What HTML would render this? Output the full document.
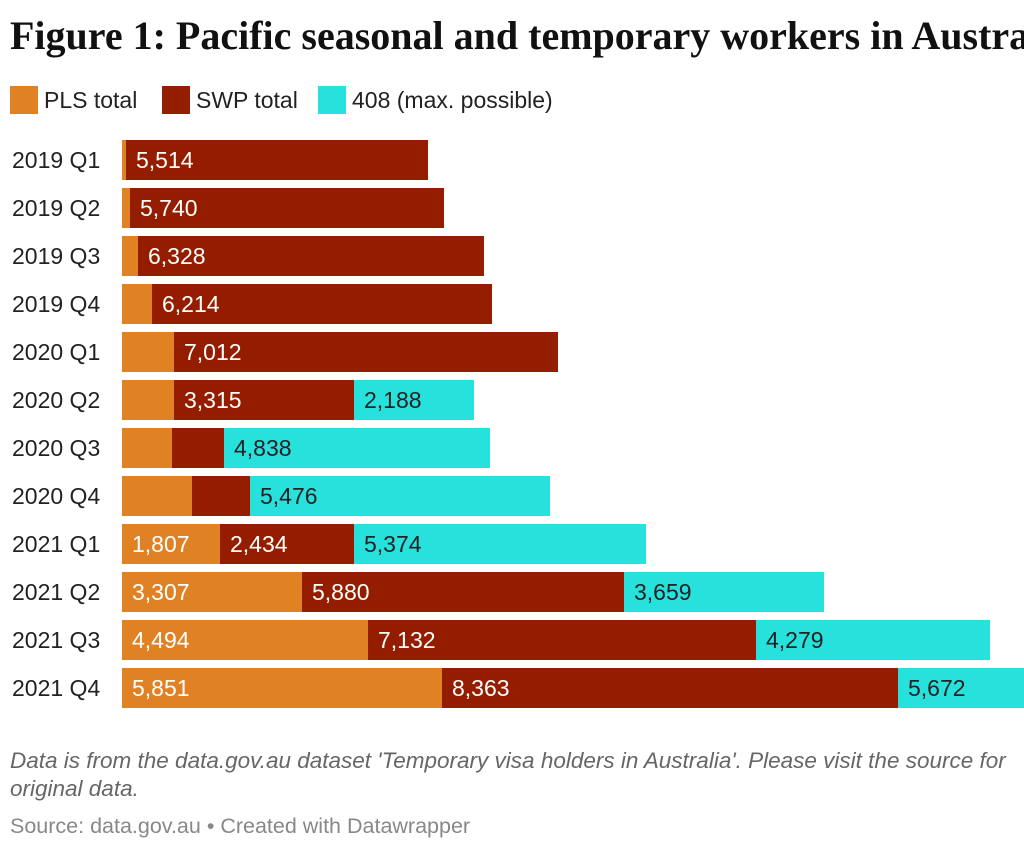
<!DOCTYPE html>
<html><head><meta charset="utf-8"><style>
body{margin:0;width:1024px;height:850px;background:#fff;overflow:hidden;position:relative;font-family:"Liberation Sans",sans-serif;}
.t{position:absolute;left:10px;top:12px;font-family:"Liberation Serif",serif;font-weight:bold;font-size:40px;white-space:nowrap;color:#111;}
.lg{position:absolute;top:86px;height:28px;font-size:23px;color:#222;line-height:28px;white-space:nowrap}
.sw{display:inline-block;width:28px;height:28px;vertical-align:top;margin-right:6px}
.lab{position:absolute;left:12px;font-size:23px;color:#222;line-height:40px}
.b{position:absolute;height:40px;line-height:40px;font-size:23px;color:#fff;box-sizing:border-box;padding-left:10px;white-space:nowrap;overflow:hidden}
.o{background:#e08224}.r{background:#941d00}.c{background:#27e1dc;color:#222}
.f{position:absolute;left:10px;font-size:22.5px;color:#666;font-style:italic;white-space:nowrap}
</style></head><body>
<div class="t">Figure 1: Pacific seasonal and temporary workers in Australia</div>
<div class="lg" style="left:10px"><span class="sw" style="background:#e08224"></span>PLS total</div>
<div class="lg" style="left:162px"><span class="sw" style="background:#941d00"></span>SWP total</div>
<div class="lg" style="left:318px"><span class="sw" style="background:#27e1dc"></span>408 (max. possible)</div>
<div id="c"></div>
<script>
var rows=[["2019 Q1",126,428,0,"","5,514",""],["2019 Q2",130,444,0,"","5,740",""],["2019 Q3",138,484,0,"","6,328",""],["2019 Q4",152,492,0,"","6,214",""],["2020 Q1",174,558,0,"","7,012",""],["2020 Q2",174,354,474,"","3,315","2,188"],["2020 Q3",172,224,490,"","","4,838"],["2020 Q4",192,250,550,"","","5,476"],["2021 Q1",220,354,646,"1,807","2,434","5,374"],["2021 Q2",302,624,824,"3,307","5,880","3,659"],["2021 Q3",368,756,990,"4,494","7,132","4,279"],["2021 Q4",442,898,1208,"5,851","8,363","5,672"]];
var h="";rows.forEach(function(r,i){var y=140+48*i;
h+='<div class="lab" style="top:'+y+'px">'+r[0]+'</div>';
h+='<div class="b o" style="top:'+y+'px;left:122px;width:'+(r[1]-122)+'px">'+r[4]+'</div>';
h+='<div class="b r" style="top:'+y+'px;left:'+r[1]+'px;width:'+(r[2]-r[1])+'px">'+r[5]+'</div>';
if(r[3])h+='<div class="b c" style="top:'+y+'px;left:'+r[2]+'px;width:'+(r[3]-r[2])+'px">'+r[6]+'</div>';});
document.getElementById("c").innerHTML=h;
</script>
<div class="f" style="top:748px">Data is from the data.gov.au dataset 'Temporary visa holders in Australia'. Please visit the source for</div>
<div class="f" style="top:776px">original data.</div>
<div class="f" style="top:814px;font-style:normal;font-size:21.5px;color:#888">Source: data.gov.au • Created with Datawrapper</div>
</body></html>
